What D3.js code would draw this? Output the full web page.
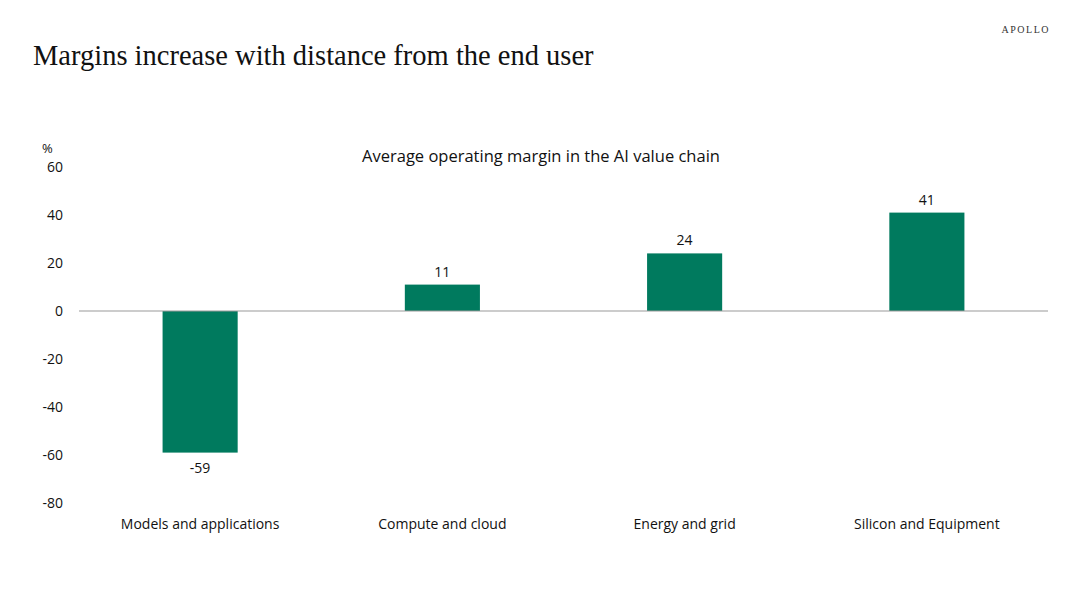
<!DOCTYPE html>
<html><head><meta charset="utf-8">
<script src="https://cdn.jsdelivr.net/npm/d3@7"></script>
<style>body{margin:0;background:#fff}</style>
</head><body>
<script>
// Data
var categories = ["Models and applications", "Compute and cloud", "Energy and grid", "Silicon and Equipment"];
var margins = [-59, 11, 24, 41];
var yTicks = [60, 40, 20, 0, -20, -40, -60, -80];

var W = 1080, H = 608;
var svg = d3.select("body").append("svg").attr("width", W).attr("height", H);

svg.append("text").attr("x", 33).attr("y", 65)
  .style("font-family", "Liberation Serif, serif").style("font-size", "28.5px").attr("fill", "#111")
  .text("Margins increase with distance from the end user");
svg.append("text").attr("x", 1050).attr("y", 33).attr("text-anchor", "end")
  .style("font-family", "Liberation Serif, serif").style("font-size", "10px")
  .style("letter-spacing", "1.5px").attr("fill", "#333").text("APOLLO");

svg.append("text").attr("x", 541).attr("y", 162).attr("text-anchor", "middle")
  .style("font-family", "Open Sans, sans-serif").style("font-size", "16.5px").attr("fill", "#111")
  .text("Average operating margin in the AI value chain");

var x = d3.scaleBand().domain(categories).range([79, 1048]).paddingInner(0.69).paddingOuter(0.345);
var y = d3.scaleLinear().domain([-80, 60]).range([503, 167]);

var font = "Open Sans, sans-serif";
// Y axis labels
svg.append("g").selectAll("text").data(yTicks).join("text")
  .attr("x", 63).attr("y", function(d) { return y(d); }).attr("dy", "0.35em")
  .attr("text-anchor", "end").style("font-family", font).style("font-size", "14px").attr("fill", "#111")
  .text(function(d) { return d; });
svg.append("text").attr("x", 42).attr("y", 153).style("font-family", font)
  .style("font-size", "13px").attr("fill", "#111").text("%");

// Bars
svg.append("g").selectAll("rect").data(margins).join("rect")
  .attr("x", function(d, i) { return x(categories[i]); })
  .attr("width", x.bandwidth())
  .attr("y", function(d) { return y(Math.max(0, d)); })
  .attr("height", function(d) { return Math.abs(y(d) - y(0)); })
  .attr("fill", "#007a5e");

// Value labels
svg.append("g").selectAll("text").data(margins).join("text")
  .attr("x", function(d, i) { return x(categories[i]) + x.bandwidth() / 2; })
  .attr("y", function(d) { return d < 0 ? y(d) + 20 : y(d) - 8; })
  .attr("text-anchor", "middle").style("font-family", font).style("font-size", "14px").attr("fill", "#111")
  .text(function(d) { return d; });

// Zero line
svg.append("line").attr("x1", 79).attr("x2", 1048).attr("y1", y(0)).attr("y2", y(0))
  .attr("stroke", "#999").attr("stroke-width", 1);

// Category labels
svg.append("g").selectAll("text").data(categories).join("text")
  .attr("x", function(d) { return x(d) + x.bandwidth() / 2; }).attr("y", 529)
  .attr("text-anchor", "middle").style("font-family", font).style("font-size", "14px").attr("fill", "#111")
  .text(function(d) { return d; });
</script>
</body></html>
